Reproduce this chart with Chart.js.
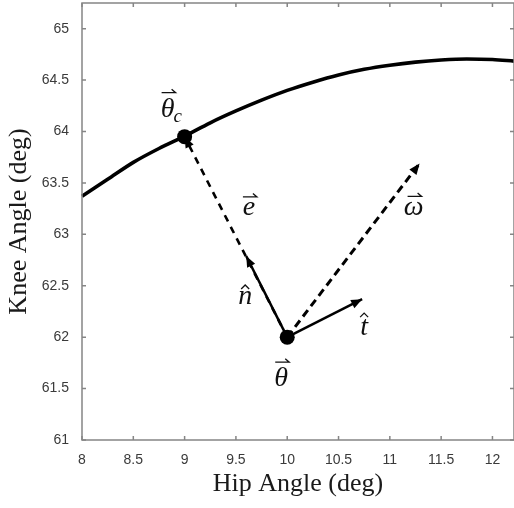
<!DOCTYPE html>
<html>
<head>
<meta charset="utf-8">
<script src="https://cdn.jsdelivr.net/npm/chart.js@4.4.0/dist/chart.umd.min.js"></script>
<style>
  html, body { margin: 0; padding: 0; background: #fff; }
  canvas { display: block; }
</style>
</head>
<body>
<canvas id="chart" width="514" height="508"></canvas>
<script>
// curve of admissible joint configurations (hip, knee)
const curveX = [8, 8.25, 8.5, 8.75, 9, 9.25, 9.5, 9.75, 10, 10.25, 10.5, 10.75, 11, 11.25, 11.5, 11.75, 12, 12.21];
const curveY = [63.37, 63.535, 63.70, 63.835, 63.955, 64.085, 64.20, 64.305, 64.40, 64.48, 64.55, 64.605, 64.645, 64.675, 64.695, 64.705, 64.70, 64.685];

// points and vector tips [hip, knee]
const thetaPt = [10, 62.0];
const thetaC = [9, 63.95];
const nTip = [9.60, 62.79];
const tTip = [10.73, 62.37];
const omegaTip = [11.29, 63.69];

const xTicks = [8, 8.5, 9, 9.5, 10, 10.5, 11, 11.5, 12];
const yTicks = [61, 61.5, 62, 62.5, 63, 63.5, 64, 64.5, 65];

const toXY = p => ({ x: p[0], y: p[1] });

function vecData(from, to) {
  return [toXY(from), toXY(to)];
}

// small arrow heads on the vector datasets
const arrowHeads = {
  id: 'arrowHeads',
  afterDatasetsDraw(chart) {
    const ctx = chart.ctx;
    chart.data.datasets.forEach((ds, i) => {
      if (!ds.arrowHead) return;
      const pts = chart.getDatasetMeta(i).data;
      const a = pts[pts.length - 2], b = pts[pts.length - 1];
      const ang = Math.atan2(b.y - a.y, b.x - a.x);
      const len = 11, half = 4.5;
      ctx.save();
      ctx.fillStyle = '#000';
      ctx.beginPath();
      ctx.moveTo(b.x, b.y);
      ctx.lineTo(b.x - len * Math.cos(ang) + half * Math.sin(ang), b.y - len * Math.sin(ang) - half * Math.cos(ang));
      ctx.lineTo(b.x - len * Math.cos(ang) - half * Math.sin(ang), b.y - len * Math.sin(ang) + half * Math.cos(ang));
      ctx.closePath();
      ctx.fill();
      ctx.restore();
    });
  }
};

// matlab style box with inward ticks
const frame = {
  id: 'frame',
  afterDraw(chart) {
    const { ctx, chartArea: ca, scales: { x, y } } = chart;
    ctx.save();
    ctx.strokeStyle = '#858585';
    ctx.lineWidth = 1.5;
    ctx.strokeRect(ca.left, ca.top, ca.right - ca.left, ca.bottom - ca.top);
    ctx.beginPath();
    xTicks.forEach(v => {
      const px = x.getPixelForValue(v);
      ctx.moveTo(px, ca.bottom); ctx.lineTo(px, ca.bottom - 4);
      ctx.moveTo(px, ca.top); ctx.lineTo(px, ca.top + 4);
    });
    yTicks.forEach(v => {
      const py = y.getPixelForValue(v);
      ctx.moveTo(ca.left, py); ctx.lineTo(ca.left + 4, py);
      ctx.moveTo(ca.right, py); ctx.lineTo(ca.right - 4, py);
    });
    ctx.stroke();
    ctx.restore();
  }
};

function mathLabel(ctx, s, cx, baseY, deco, sub) {
  ctx.save();
  ctx.font = 'italic 28px "Liberation Serif"';
  ctx.fillStyle = '#111';
  ctx.textAlign = 'center';
  ctx.textBaseline = 'alphabetic';
  ctx.fillText(s, cx, baseY);
  const m = ctx.measureText(s);
  const top = baseY - m.actualBoundingBoxAscent;
  if (sub) {
    ctx.font = 'italic 19px "Liberation Serif"';
    ctx.textAlign = 'left';
    ctx.fillText(sub, cx + m.width / 2 - 1, baseY + 5);
  }
  ctx.strokeStyle = '#111';
  ctx.lineWidth = 1.3;
  ctx.beginPath();
  if (deco === 'vec') {
    const ya = top - 5;
    ctx.moveTo(cx - 6, ya); ctx.lineTo(cx + 8, ya);
    ctx.lineTo(cx + 4, ya - 3.5);
  } else {
    const yh = top - 4;
    ctx.moveTo(cx - 4, yh + 2); ctx.lineTo(cx, yh - 2); ctx.lineTo(cx + 4, yh + 2);
  }
  ctx.stroke();
  ctx.restore();
}

const annot = {
  id: 'annot',
  afterDatasetsDraw(chart) {
    const { ctx, scales: { x, y } } = chart;
    const px = p => [x.getPixelForValue(p[0]), y.getPixelForValue(p[1])];
    const th = px(thetaPt), tc = px(thetaC), nt = px(nTip), tt = px(tTip), wt = px(omegaTip);
    const em = [(th[0] + tc[0]) / 2, (th[1] + tc[1]) / 2];
    mathLabel(ctx, 'θ', th[0] - 6, th[1] + 49, 'vec');
    mathLabel(ctx, 'θ', tc[0] - 17, tc[1] - 20, 'vec', 'c');
    mathLabel(ctx, 'e', em[0] + 13, em[1] - 22, 'vec');
    mathLabel(ctx, 'n', nt[0] - 1, nt[1] + 48, 'hat');
    mathLabel(ctx, 't', tt[0] + 2, tt[1] + 36, 'hat');
    mathLabel(ctx, 'ω', wt[0] - 6, wt[1] + 52, 'vec');
  }
};

const tickFont = { family: '"Liberation Sans", Arial, sans-serif', size: 14 };
const titleFont = { family: '"Liberation Serif", "Times New Roman", serif', size: 26 };

new Chart(document.getElementById('chart'), {
  type: 'scatter',
  data: {
    datasets: [
      {
        data: [toXY(thetaPt), toXY(thetaC)],
        pointRadius: 7.5,
        pointBackgroundColor: '#000',
        pointBorderWidth: 0,
        showLine: false
      },
      {
        data: vecData(thetaPt, nTip),
        showLine: true, borderColor: '#000', borderWidth: 2.5, pointRadius: 0,
        arrowHead: true
      },
      {
        data: vecData(thetaPt, tTip),
        showLine: true, borderColor: '#000', borderWidth: 2.5, pointRadius: 0,
        arrowHead: true
      },
      {
        data: vecData(thetaPt, thetaC),
        showLine: true, borderColor: '#000', borderWidth: 2.6, borderDash: [7, 6], pointRadius: 0,
        arrowHead: true
      },
      {
        data: vecData(thetaPt, omegaTip),
        showLine: true, borderColor: '#000', borderWidth: 3, borderDash: [8, 5], pointRadius: 0,
        arrowHead: true
      },
      {
        data: curveX.map((v, i) => ({ x: v, y: curveY[i] })),
        showLine: true, borderColor: '#000', borderWidth: 3.6, pointRadius: 0,
        cubicInterpolationMode: 'monotone'
      }
    ]
  },
  options: {
    responsive: false,
    animation: false,
    clip: false,
    layout: { autoPadding: false, padding: { top: 3, left: 0, right: 0, bottom: 0 } },
    plugins: {
      legend: { display: false },
      tooltip: { enabled: false }
    },
    scales: {
      x: {
        type: 'linear',
        min: 8,
        max: 12.21,
        afterBuildTicks: s => { s.ticks = xTicks.map(v => ({ value: v })); },
        afterFit: s => { s.height = 68; s.paddingLeft = 0; s.paddingRight = 0; },
        grid: { display: false, drawTicks: false },
        border: { display: false },
        ticks: {
          padding: 12, font: tickFont, color: '#3a3a3a', maxRotation: 0, autoSkip: false,
          callback: v => String(v)
        },
        title: { display: true, text: 'Hip Angle (deg)', font: titleFont, color: '#1a1a1a', padding: { top: 0, bottom: 8 } }
      },
      y: {
        type: 'linear',
        min: 61,
        max: 65.25,
        afterBuildTicks: s => { s.ticks = yTicks.map(v => ({ value: v })); },
        afterFit: s => { s.width = 82; s.paddingTop = 0; s.paddingBottom = 0; },
        grid: { display: false, drawTicks: false },
        border: { display: false },
        ticks: {
          padding: 13, font: tickFont, color: '#3a3a3a', autoSkip: false,
          callback: v => String(v)
        },
        title: { display: true, text: 'Knee Angle (deg)', font: titleFont, color: '#1a1a1a', padding: { top: 4, bottom: 0 } }
      }
    }
  },
  plugins: [arrowHeads, annot, frame]
});
</script>
</body>
</html>
